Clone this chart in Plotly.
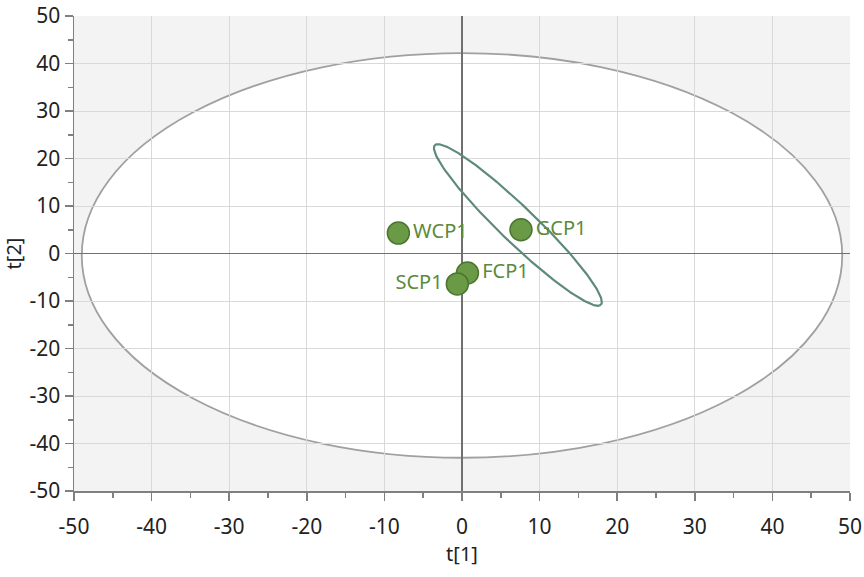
import numpy as np
import plotly.graph_objects as go

# Scores
names = ["WCP1", "GCP1", "FCP1", "SCP1"]
t1 = [-8.2, 7.6, 0.7, -0.6]
t2 = [4.3, 5.0, -4.1, -6.4]
label_pos = ["middle right", "middle right", "middle right", "middle left"]

# Hotelling ellipse (outer)
ell_a = 49.0
ell_b = 42.6
ell_cy = -0.4

# inner group ellipse: center and conjugate semi-diameters
in_cx, in_cy = 7.2, 6.0
in_u = (10.7, -16.8)
in_v = (-1.6, -2.7)

ticks = [-50, -40, -30, -20, -10, 0, 10, 20, 30, 40, 50]

th = np.linspace(0, 2 * np.pi, 300)
ix = in_cx + in_u[0] * np.cos(th) + in_v[0] * np.sin(th)
iy = in_cy + in_u[1] * np.cos(th) + in_v[1] * np.sin(th)

fig = go.Figure()
fig.add_trace(go.Scatter(x=ix, y=iy, mode="lines",
                         line=dict(color="#5e8a7c", width=2.2),
                         hoverinfo="skip", showlegend=False))
fig.add_trace(go.Scatter(x=t1, y=t2, mode="markers+text", text=names,
                         textposition=label_pos,
                         textfont=dict(family="Noto Sans", size=20, color="#5b8a3c"),
                         marker=dict(size=22, color="#6b9a46",
                                     line=dict(color="#4b7530", width=1.5)),
                         showlegend=False))

fig.add_shape(type="circle", xref="x", yref="y",
              x0=-ell_a, x1=ell_a, y0=ell_cy - ell_b, y1=ell_cy + ell_b,
              fillcolor="white", line=dict(color="#a0a0a0", width=1.8),
              layer="below")

axis_common = dict(
    tickvals=ticks, ticktext=[str(t) for t in ticks],
    showgrid=True, gridcolor="#d9d9d9", gridwidth=1,
    zeroline=True, zerolinecolor="#707070", zerolinewidth=1.5,
    showline=True, linecolor="#808080", linewidth=1.5,
    ticks="outside", ticklen=8, tickwidth=1.5, tickcolor="#808080",
    minor=dict(dtick=5, tick0=0, ticks="outside", ticklen=5, tickwidth=1.5,
               tickcolor="#808080", showgrid=False),
    tickfont=dict(family="Noto Sans", size=21, color="#222222"),
    range=[-50, 50], fixedrange=True, automargin=False,
    ticklabeloverflow="allow",
)

fig.update_xaxes(**axis_common, ticklabelstandoff=8,
                 title=dict(text="t[1]", font=dict(family="Noto Sans", size=20, color="#222222"), standoff=4))
fig.update_yaxes(**axis_common, ticklabelstandoff=0,
                 title=dict(text="t[2]", font=dict(family="Noto Sans", size=20, color="#222222"), standoff=4))

fig.update_layout(
    width=864, height=577,
    margin=dict(l=74, r=14, t=16, b=86),
    plot_bgcolor="#f3f3f3", paper_bgcolor="white",
    hovermode=False,
)

fig.write_html(
    "out.html",
    config={"displayModeBar": False, "staticPlot": True},
    post_script="document.body.style.margin='0';document.body.style.overflow='hidden';",
)
